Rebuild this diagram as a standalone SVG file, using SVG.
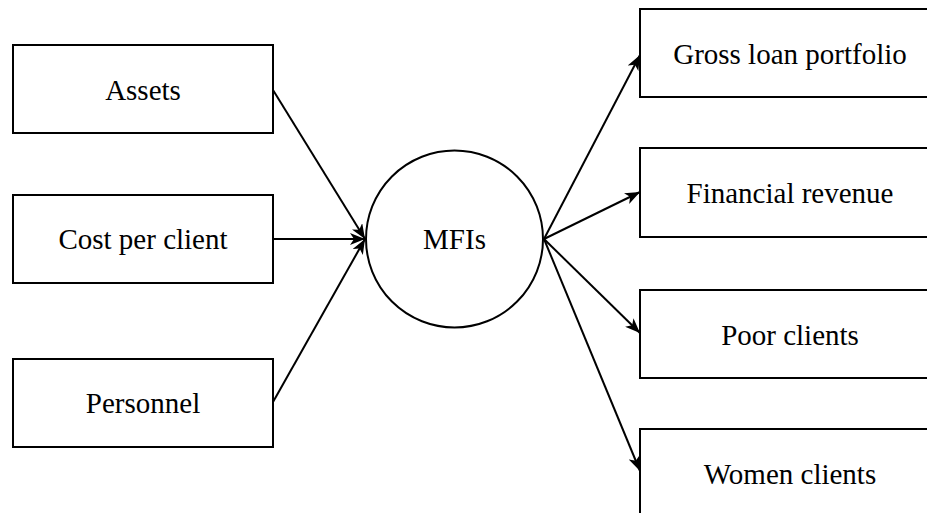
<svg xmlns="http://www.w3.org/2000/svg" width="927" height="513" viewBox="0 0 927 513">
<style>
.box{fill:#fff;stroke:#000;stroke-width:2}
.lbl{font-family:"Liberation Serif","Times New Roman",serif;font-size:29px;fill:#000;text-anchor:middle}
.con{stroke:#000;stroke-width:2;fill:none;marker-end:url(#ah)}
</style>
<defs>
<marker id="ah" markerUnits="userSpaceOnUse" markerWidth="16" markerHeight="12" refX="15" refY="6" orient="auto">
<path d="M0,0 L15,6 L0,12 L4,6 Z" fill="#000"/>
</marker>
</defs>
<rect width="927" height="513" fill="#fff"/>
<g id="assets"><rect class="box" x="13" y="45" width="260" height="88"/><text class="lbl" x="143" y="100">Assets</text></g>
<g id="cost"><rect class="box" x="13" y="195" width="260" height="88"/><text class="lbl" x="143" y="249">Cost per client</text></g>
<g id="personnel"><rect class="box" x="13" y="359" width="260" height="88"/><text class="lbl" x="143" y="413">Personnel</text></g>
<g id="mfis"><circle class="box" cx="454.5" cy="239" r="88.5"/><text class="lbl" x="454.5" y="249">MFIs</text></g>
<g id="gross"><rect class="box" x="640" y="9" width="300" height="88"/><text class="lbl" x="790" y="64">Gross loan portfolio</text></g>
<g id="financial"><rect class="box" x="640" y="148" width="300" height="89"/><text class="lbl" x="790" y="203">Financial revenue</text></g>
<g id="poor"><rect class="box" x="640" y="290" width="300" height="88"/><text class="lbl" x="790" y="345">Poor clients</text></g>
<g id="women"><rect class="box" x="640" y="429" width="300" height="88"/><text class="lbl" x="790" y="484">Women clients</text></g>
<g id="connectors">
<line class="con" x1="273" y1="90" x2="365" y2="239"/>
<line class="con" x1="273" y1="239" x2="365" y2="239"/>
<line class="con" x1="273" y1="402" x2="365" y2="239"/>
<line class="con" x1="544" y1="239" x2="640" y2="55"/>
<line class="con" x1="544" y1="239" x2="640" y2="192"/>
<line class="con" x1="544" y1="239" x2="640" y2="333"/>
<line class="con" x1="544" y1="239" x2="640" y2="471"/>
</g>
</svg>
